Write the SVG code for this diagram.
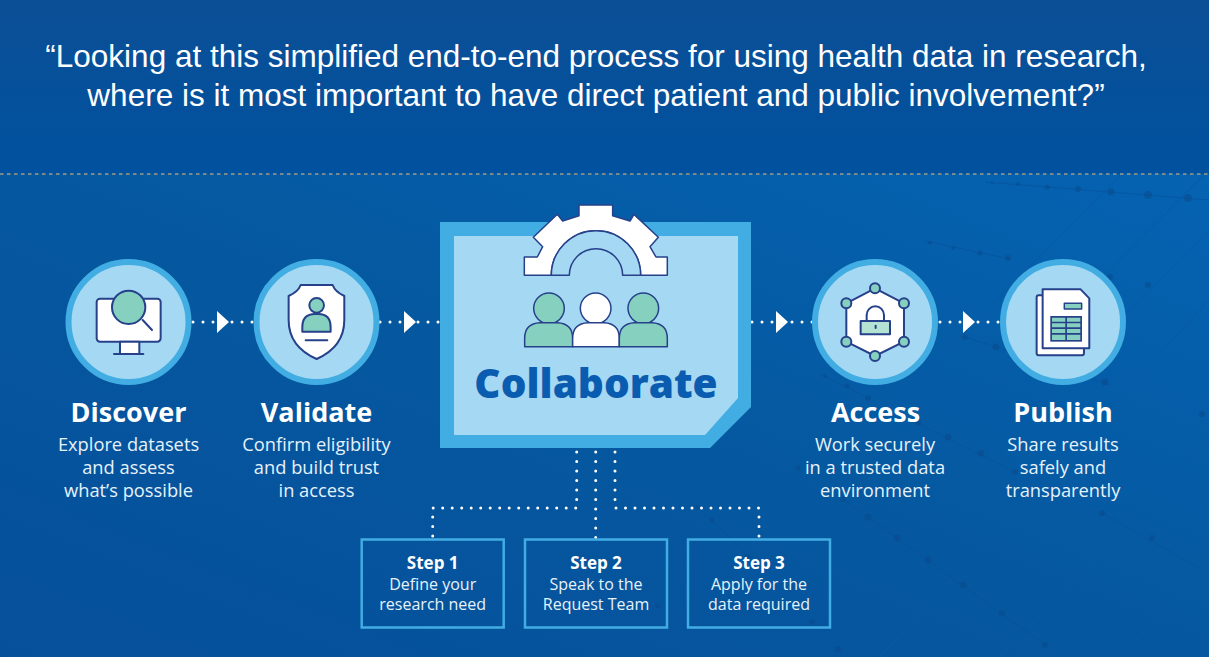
<svg xmlns="http://www.w3.org/2000/svg" width="1209" height="657" viewBox="0 0 1209 657">
<defs>
<linearGradient id="head" x1="0" y1="0" x2="0" y2="1"><stop offset="0" stop-color="#0b4f96"/><stop offset="1" stop-color="#00519f"/></linearGradient>
<linearGradient id="bg" x1="0" y1="1" x2="1" y2="0"><stop offset="0" stop-color="#064f9b"/><stop offset="0.5" stop-color="#05589f"/><stop offset="1" stop-color="#0563b2"/></linearGradient>
<polygon id="tri" points="0,-11 12,0 0,11" fill="#fff"/>
</defs>
<style>
text{font-family:"Open Sans","Noto Sans",sans-serif;fill:#e6f2fb;text-anchor:middle}
.title{font-family:"Liberation Sans",Arial,sans-serif;font-size:31.5px;fill:#fff}
.h{font-size:27px;font-weight:700;fill:#fff}
.d{font-size:18.300px}
.s{font-size:17px;font-weight:700;fill:#fff}
.t{font-size:16px}
.ring{fill:#a5d8f3;stroke:#41ade3;stroke-width:6}
.ic{stroke:#26408a;stroke-width:6;stroke-linejoin:round;stroke-linecap:round}
.thin{stroke-width:4.500}
.w{fill:#fff}.g{fill:#85d0be}.lb{fill:#a5d8f3}.n{fill:none}.pg{fill:#b5e3d3}
.dots{fill:none;stroke:#fff;stroke-width:3;stroke-linecap:round;stroke-dasharray:0 10}
.dotv{fill:none;stroke:#fff;stroke-width:3;stroke-linecap:round;stroke-dasharray:0 9.500}
.box{fill:none;stroke:#41ade3;stroke-width:2.500}
.tx circle{fill:#0a4a8c;opacity:.55}
</style>
<rect width="1209" height="174" fill="url(#head)"/>
<rect y="174" width="1209" height="483" fill="url(#bg)"/>
<g id="texture" class="tx">
<path d="M1209 170L960 420M1209 230L1000 440M1209 300L880 657M1209 440L1000 657M1120 175L800 500M1209 560L1120 657" fill="none" stroke="#0a5aa6" stroke-width="1"/>
<path d="M985 182L1209 200M925 241L1010 259M820 374L870 399M965 337L1110 385M843 499L1045 645M910 420L1015 472M1102 513L1202 570M697 507L760 565" fill="none" stroke="#08509a" stroke-width="1" opacity=".6"/>
<circle cx="992" cy="183" r="1.500"/><circle cx="1018" cy="184" r="2"/><circle cx="1047" cy="187" r="2.500"/><circle cx="1078" cy="189" r="3"/><circle cx="1111" cy="192" r="3.500"/><circle cx="1148" cy="195" r="4"/><circle cx="1188" cy="198" r="4"/>
<circle cx="930" cy="243" r="2"/><circle cx="953" cy="248" r="2"/><circle cx="980" cy="253" r="2.500"/><circle cx="1008" cy="258" r="3"/>
<circle cx="1110" cy="277" r="3"/><circle cx="1148" cy="285" r="3"/><circle cx="965" cy="337" r="3"/><circle cx="996" cy="347" r="3.500"/><circle cx="1105" cy="382" r="3.500"/>
<circle cx="825" cy="376" r="2"/><circle cx="847" cy="386" r="2.500"/><circle cx="868" cy="398" r="3"/>
<circle cx="918" cy="423" r="3"/><circle cx="948" cy="437" r="3.500"/><circle cx="981" cy="453" r="3.500"/><circle cx="1015" cy="472" r="3"/>
<circle cx="843" cy="499" r="3"/><circle cx="868" cy="517" r="3.500"/><circle cx="897" cy="538" r="3.500"/><circle cx="928" cy="560" r="3.500"/><circle cx="963" cy="585" r="3.500"/><circle cx="1002" cy="613" r="3"/><circle cx="1045" cy="645" r="3"/>
<circle cx="1102" cy="513" r="3"/><circle cx="1152" cy="538" r="3"/><circle cx="1202" cy="414" r="3"/><circle cx="838" cy="649" r="3"/>
<circle cx="747" cy="557" r="3"/><circle cx="712" cy="520" r="2.500"/><circle cx="697" cy="507" r="2.500"/><circle cx="812" cy="622" r="3"/><circle cx="798" cy="468" r="2.500"/><circle cx="658" cy="606" r="2.500"/>
</g>
<text class="title" x="596" y="67">“Looking at this simplified end-to-end process for using health data in research,</text>
<text class="title" x="596" y="106">where is it most important to have direct patient and public involvement?”</text>
<line id="rule" x1="0" y1="174" x2="1209" y2="174" stroke="#a09c86" stroke-width="1.500" stroke-dasharray="3.500 3.500"/>
<g id="connectors">
<path class="dots" d="M193 322H213.500M232 322H252.500M380 322H400.500M418 322H438.500M752 322H772.500M792 322H812.500M940 322H960.500M978 322H998.500"/>
<use href="#tri" x="217" y="322"/><use href="#tri" x="404" y="322"/><use href="#tri" x="776" y="322"/><use href="#tri" x="963" y="322"/>
<path class="dotv" d="M576.700 452V508H432.700V538M595.700 452V538M615 452V508H759V538"/>
</g>
<g id="discover">
<circle class="ring" cx="128.500" cy="322" r="60"/>
<g transform="translate(40 240) scale(.3333)">
<rect class="ic w" x="170" y="176" width="192" height="129" rx="10"/>
<rect class="ic w" x="240" y="305" width="58" height="37"/>
<path class="ic" d="M222 342H310M308 240L336 270"/>
<circle class="ic g" cx="266" cy="202" r="50"/>
</g>
<text class="h" x="128.500" y="422">Discover</text>
<text class="d" x="128.500" y="451">Explore datasets</text><text class="d" x="128.500" y="474">and assess</text><text class="d" x="128.500" y="497">what’s possible</text>
</g>
<g id="validate">
<circle class="ring" cx="316.500" cy="322" r="60"/>
<g transform="translate(40 240) scale(.3333)">
<path class="ic w" d="M782 135H878Q885 155 913 168V240Q913 320 830 357Q746 320 746 240V168Q775 155 782 135Z"/>
<circle class="ic g" cx="830" cy="196" r="22"/>
<path class="ic g" d="M787 275V262Q787 222 825 222H835Q872 222 872 262V275Z"/>
<path class="ic" d="M797 301H862"/>
</g>
<text class="h" x="316.500" y="422">Validate</text>
<text class="d" x="316.500" y="451">Confirm eligibility</text><text class="d" x="316.500" y="474">and build trust</text><text class="d" x="316.500" y="497">in access</text>
</g>
<g id="collaborate">
<path d="M440 222H751V407L710 448H440Z" fill="#41ade3"/>
<path d="M454 236H738V398L705 435H454Z" fill="#a5d8f3"/>
<g transform="translate(430 195) scale(.3333)">
<path class="ic w thin" d="M283 241V186H322L338 155L310 127L382 58L398 78L447 62V30H548V62L600 78L612 58L685 127L660 155L678 186H712V241H632A134 134 0 0 0 364 241Z"/>
<path class="ic lb thin" d="M364 241A134 134 0 0 1 632 241H578A80 80 0 0 0 418 241Z"/>
<circle class="ic g thin" cx="357" cy="340" r="46"/><circle class="ic w thin" cx="497" cy="340" r="46"/><circle class="ic g thin" cx="640" cy="340" r="46"/>
<path class="ic g thin" d="M284 455V430Q284 385 330 383H382Q428 385 428 430V455Z"/>
<path class="ic w thin" d="M428 455V430Q428 385 474 383H522Q568 385 568 430V455Z"/>
<path class="ic g thin" d="M568 455V430Q568 385 614 383H666Q712 385 712 430V455Z"/>
</g>
<text x="596" y="398" font-size="40.500" font-weight="800" style="fill:#0a5cb0">Collaborate</text>
</g>
<g id="access">
<circle class="ring" cx="875" cy="322" r="60"/>
<g transform="translate(750 250) scale(.3333)">
<path class="ic w" d="M375 115L462 160V275L375 318L289 275V160Z"/>
<path class="ic n" d="M350 213V195A26 26 0 0 1 402 195V213"/>
<rect class="ic pg" x="332" y="213" width="88" height="40"/>
<path class="ic" d="M377 227V234"/>
<circle class="ic g" cx="375" cy="115" r="15"/><circle class="ic g" cx="462" cy="160" r="15"/><circle class="ic g" cx="462" cy="275" r="15"/><circle class="ic g" cx="375" cy="318" r="15"/><circle class="ic g" cx="289" cy="275" r="15"/><circle class="ic g" cx="289" cy="160" r="15"/>
</g>
<text class="h" x="875.500" y="422">Access</text>
<text class="d" x="875" y="451">Work securely</text><text class="d" x="875" y="474">in a trusted data</text><text class="d" x="875" y="497">environment</text>
</g>
<g id="publish">
<circle class="ring" cx="1063" cy="322" r="60"/>
<g transform="translate(750 250) scale(.3333)">
<rect class="ic w" x="860" y="136" width="142" height="180" rx="6"/>
<path class="ic w" d="M878 118H992L1018 145V295H878Z"/>
<rect class="ic g thin" x="943" y="160" width="52" height="17"/>
<rect x="901" y="198" width="95" height="77" fill="#26408a"/>
<path d="M906 203H946V215H906ZM951 203H991V215H951ZM906 220H946V232H906ZM951 220H991V232H951ZM906 237H946V249H906ZM951 237H991V249H951ZM906 254H946V270H906ZM951 254H991V270H951Z" fill="#85d0be"/>
</g>
<text class="h" x="1063" y="422">Publish</text>
<text class="d" x="1063" y="451">Share results</text><text class="d" x="1063" y="474">safely and</text><text class="d" x="1063" y="497">transparently</text>
</g>
<g id="step1"><rect class="box" x="361.700" y="539.500" width="142" height="88"/><text class="s" x="432.700" y="569">Step 1</text><text class="t" x="432.700" y="590">Define your</text><text class="t" x="432.700" y="610">research need</text></g>
<g id="step2"><rect class="box" x="525" y="539.500" width="142" height="88"/><text class="s" x="596" y="569">Step 2</text><text class="t" x="596" y="590">Speak to the</text><text class="t" x="596" y="610">Request Team</text></g>
<g id="step3"><rect class="box" x="688" y="539.500" width="142" height="88"/><text class="s" x="759" y="569">Step 3</text><text class="t" x="759" y="590">Apply for the</text><text class="t" x="759" y="610">data required</text></g>
</svg>
